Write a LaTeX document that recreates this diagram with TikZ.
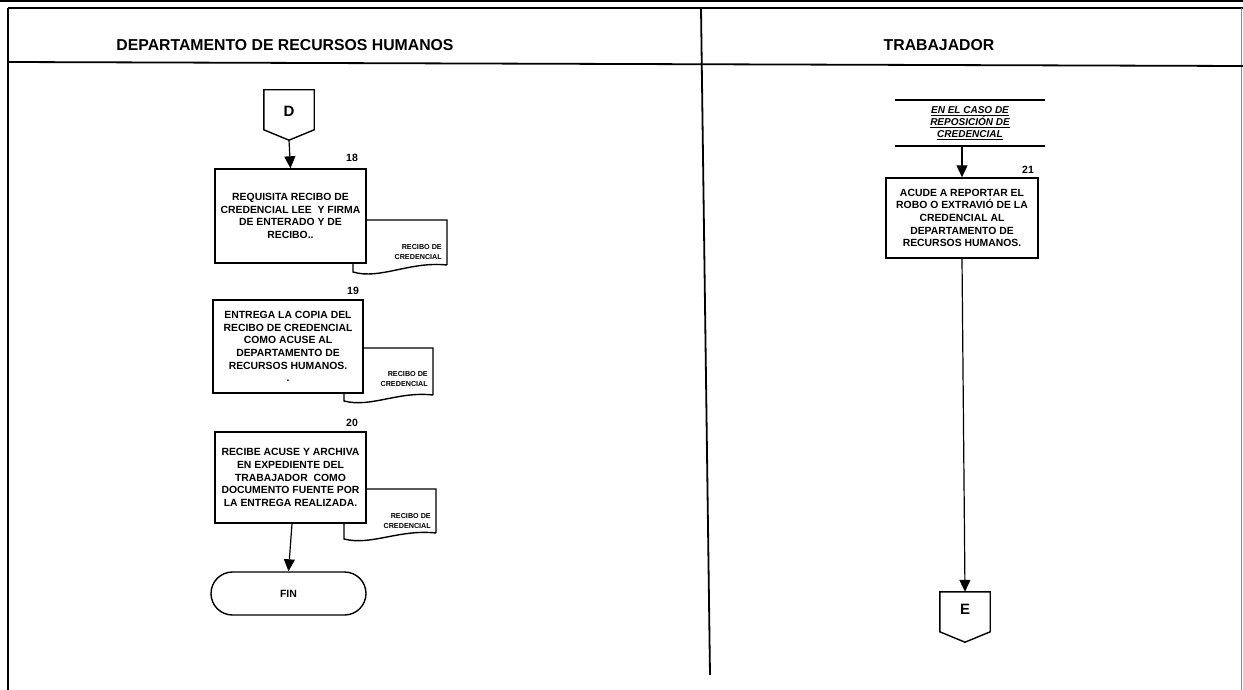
\documentclass[tikz,border=0pt]{standalone}
\usepackage{fontspec}
\setmainfont{Liberation Sans}
\usetikzlibrary{shapes.misc,arrows.meta}

\begin{document}
\begin{tikzpicture}[x=1pt,y=-1pt,
  frame/.style={line width=1.8pt},
  lanehead/.style={font=\fontsize{15.8}{18}\selectfont\bfseries},
  proc/.style={draw, line width=1.4pt, fill=white, align=center, inner sep=0pt,
    font=\fontsize{10.4}{12.6}\selectfont\bfseries},
  docpath/.style={draw, line width=1.4pt, fill=white},
  doctext/.style={align=right, inner sep=0pt, font=\fontsize{7.2}{10}\selectfont\bfseries},
  stepnum/.style={inner sep=0pt, font=\fontsize{10.5}{12}\selectfont\bfseries},
  term/.style={draw, line width=1.4pt, rounded rectangle, fill=white, inner sep=0pt,
    font=\fontsize{10.5}{12}\selectfont\bfseries},
  pageconn/.style={inner sep=0pt, minimum width=50pt, minimum height=50pt},
  flow/.style={line width=1.2pt, -{Triangle[length=12pt,width=11pt]}},
]
\useasboundingbox (0,0) rectangle (1243,690);

% outer frame and lanes
\draw[line width=2pt] (0,1.5) -- (1243,1.5);
\draw[frame] (8,8) -- (1243,8);
\draw[frame] (8,8) -- (8,690);
\draw[line width=1.2pt, black!45] (1241.5,8) -- (1241.5,690);
\draw[frame] (8,62) -- (1243,66);
\draw[frame] (701,8) -- (710,675);

\node[lanehead] (h1) at (285,45) {DEPARTAMENTO DE RECURSOS HUMANOS};
\node[lanehead] (h2) at (939,45) {TRABAJADOR};

% ---- Departamento de Recursos Humanos ----
\node[pageconn] (D) at (289,115) {};
\draw[line width=1.4pt] (D.north west) -- (D.north east) -- ([yshift=-40pt]D.north east)
  -- (D.south) -- ([yshift=-40pt]D.north west) -- cycle;
\node[inner sep=0pt, font=\fontsize{15}{17}\selectfont\bfseries] (Dt) at (289,111) {D};

% document 18
\draw[docpath] (447,265) -- (447,220) -- (353,220) -- (353,272)
  .. controls (380,280) and (410,261) .. (447,265);
\node[doctext, anchor=east] (d18) at (442,252) {RECIBO DE\\CREDENCIAL};
\node[proc, minimum width=151pt, minimum height=94pt] (b18) at (290.5,216)
  {REQUISITA RECIBO DE\\CREDENCIAL LEE \ Y FIRMA\\DE ENTERADO Y DE\\RECIBO..};
\node[stepnum] (n18) at (352,158) {18};

% document 19
\draw[docpath] (433,395) -- (433,348) -- (344,348) -- (344,401)
  .. controls (371,408) and (398,391) .. (433,395);
\node[doctext, anchor=east] (d19) at (428,379) {RECIBO DE\\CREDENCIAL};
\node[proc, minimum width=150pt, minimum height=93pt] (b19) at (288,346.5)
  {ENTREGA LA COPIA DEL\\RECIBO DE CREDENCIAL\\COMO ACUSE AL\\DEPARTAMENTO DE\\RECURSOS HUMANOS.\\.};
\node[stepnum] (n19) at (353,291) {19};

% document 20
\draw[docpath] (436,533) -- (436,489) -- (344,489) -- (344,539)
  .. controls (371,546) and (399,529) .. (436,533);
\node[doctext, anchor=east] (d20) at (431,521) {RECIBO DE\\CREDENCIAL};
\node[proc, minimum width=151pt, minimum height=91pt] (b20) at (290.5,477.5)
  {RECIBE ACUSE Y ARCHIVA\\EN EXPEDIENTE DEL\\TRABAJADOR \ COMO\\DOCUMENTO FUENTE POR\\LA ENTREGA REALIZADA.};
\node[stepnum] (n20) at (352,423) {20};

\node[term, minimum width=155pt, minimum height=43pt] (fin) at (288.5,593.5) {FIN};

\draw[flow] (D.south) -- (b18.north);
\draw[flow] ([xshift=1.5pt]b20.south) -- (fin.north);

% ---- Trabajador ----
\node[inner sep=0pt, minimum width=150pt, minimum height=46pt, align=center,
  font=\fontsize{10}{11.8}\selectfont\bfseries\itshape] (cond) at (970,123)
  {\underline{EN EL CASO DE}\\\underline{REPOSICIÓN DE}\\\underline{CREDENCIAL}};
\draw[line width=1.6pt] (cond.north west) -- (cond.north east);
\draw[line width=1.6pt] (cond.south west) -- (cond.south east);

\node[proc, minimum width=152pt, minimum height=80pt] (b21) at (962,218)
  {ACUDE A REPORTAR EL\\ROBO O EXTRAVIÓ DE LA\\CREDENCIAL AL\\DEPARTAMENTO DE\\RECURSOS HUMANOS.};
\node[stepnum] (n21) at (1028,170) {21};

\node[pageconn] (E) at (965,617) {};
\draw[line width=1.4pt] (E.north west) -- (E.north east) -- ([yshift=-40pt]E.north east)
  -- (E.south) -- ([yshift=-40pt]E.north west) -- cycle;
\node[inner sep=0pt, font=\fontsize{15}{17}\selectfont\bfseries] (Et) at (965,609) {E};

\draw[flow] ([yshift=-1pt]cond.south -| b21.north) -- (b21.north);
\draw[flow] (b21.south) -- (E.north);
\end{tikzpicture}
\end{document}
